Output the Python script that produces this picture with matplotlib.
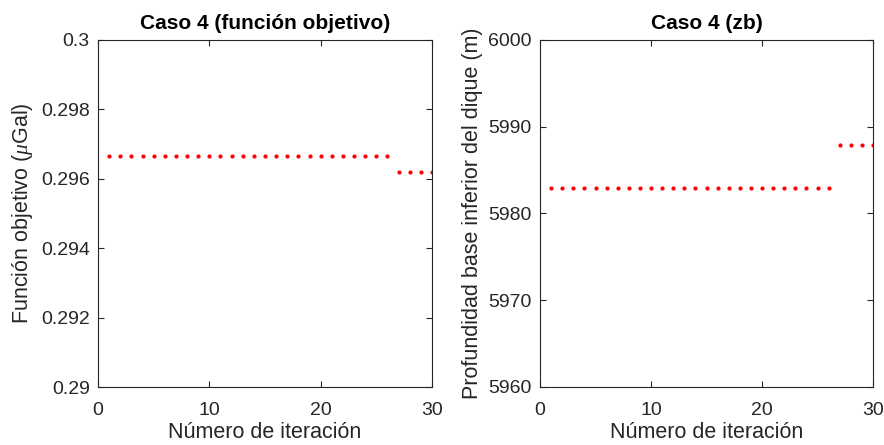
import matplotlib
matplotlib.use('Agg')
import matplotlib.pyplot as plt
import numpy as np

plt.rcParams['font.family'] = ['Liberation Sans', 'DejaVu Sans']
plt.rcParams['mathtext.fontset'] = 'custom'
plt.rcParams['mathtext.it'] = 'Liberation Serif:italic'

iteraciones = np.arange(1, 31)
fobj = [0.29667] * 26 + [0.29620] * 4
zb = [5982.9] * 26 + [5987.9] * 4

gris = '#262626'

fig = plt.figure(figsize=(8.84, 4.45), dpi=100)
ax1 = fig.add_axes([98/884, 1-387/445, 334/884, 347/445])
ax2 = fig.add_axes([540/884, 1-387/445, 333/884, 347/445])

def estilo(ax):
    ax.tick_params(direction='in', top=True, right=True, labelsize=14,
                   colors=gris, length=4, width=0.8, pad=6)
    ax.tick_params(axis='x', pad=11)
    for s in ax.spines.values():
        s.set_color(gris)
        s.set_linewidth(0.8)
    ax.set_xlim(0, 30)
    ax.set_xticks([0, 10, 20, 30])
    ax.set_xlabel('Número de iteración', fontsize=15.5, color=gris, labelpad=2)

ax1.plot(iteraciones, fobj, '.', color='red', markersize=4)
estilo(ax1)
ax1.set_ylim(0.29, 0.30)
ax1.set_yticks([0.29, 0.292, 0.294, 0.296, 0.298, 0.30])
ax1.set_yticklabels(['0.29', '0.292', '0.294', '0.296', '0.298', '0.3'])
ax1.set_ylabel('Función objetivo ($\\mu$Gal)', fontsize=15.5, color=gris, labelpad=4)
ax1.set_title('Caso 4 (función objetivo)', fontsize=15, fontweight='bold', pad=8)

ax2.plot(iteraciones, zb, '.', color='red', markersize=4)
estilo(ax2)
ax2.set_ylim(5960, 6000)
ax2.set_yticks([5960, 5970, 5980, 5990, 6000])
ax2.set_ylabel('Profundidad base inferior del dique (m)', fontsize=15.5, color=gris, labelpad=4)
ax2.set_title('Caso 4 (zb)', fontsize=15, fontweight='bold', pad=8)

fig.savefig('out.png', dpi=100)
